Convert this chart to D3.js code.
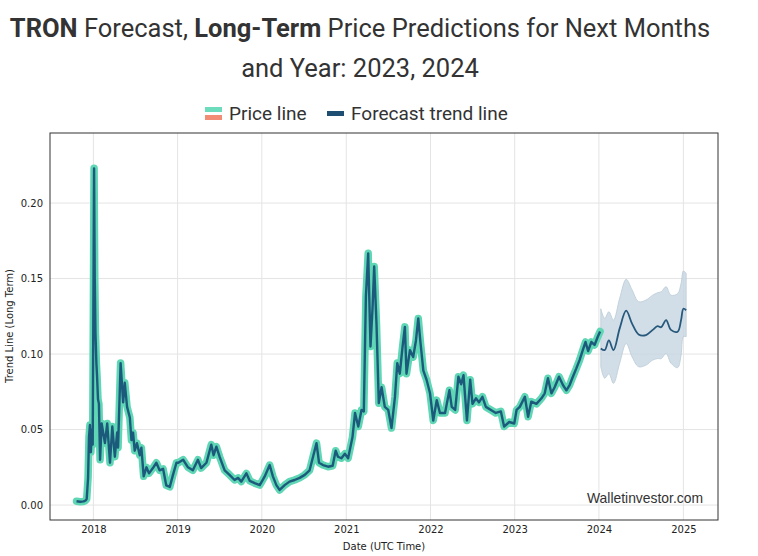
<!DOCTYPE html>
<html><head><meta charset="utf-8">
<script src="https://cdn.jsdelivr.net/npm/d3@7/dist/d3.min.js"></script>
<style>
html,body{margin:0;padding:0;background:#fff;}
svg{display:block;}
</style></head>
<body>
<svg id="chart" width="758" height="556"></svg>
<script>
// ---- data ----
const histDates = ["2017-10-20","2017-11-05","2017-11-20","2017-11-28","2017-12-03","2017-12-09","2017-12-13","2017-12-17","2017-12-21","2017-12-26","2017-12-29",
"2018-01-04","2018-01-07","2018-01-10","2018-01-14","2018-01-17","2018-01-21","2018-01-25","2018-01-30","2018-02-06","2018-02-20","2018-03-02","2018-03-14","2018-03-24","2018-04-04","2018-04-14","2018-04-18","2018-04-29",
"2018-05-10","2018-05-17","2018-05-27","2018-06-08","2018-06-15","2018-06-22","2018-06-29","2018-07-09","2018-07-21","2018-07-28","2018-08-07","2018-08-19","2018-08-30","2018-09-16","2018-10-01","2018-10-15","2018-10-30","2018-11-13","2018-11-28","2018-12-12","2018-12-27",
"2019-01-04","2019-01-25","2019-02-15","2019-03-08","2019-03-30","2019-04-13","2019-05-06","2019-05-27","2019-06-06","2019-06-18","2019-07-02","2019-07-24","2019-08-14","2019-09-05","2019-09-20","2019-10-04","2019-10-26","2019-11-10","2019-12-01","2019-12-23",
"2020-01-13","2020-02-04","2020-02-18","2020-03-04","2020-03-18","2020-04-09","2020-04-30","2020-05-22","2020-06-13","2020-07-05","2020-07-26","2020-08-10","2020-08-25","2020-09-05","2020-09-22","2020-10-14","2020-11-03","2020-11-16","2020-11-26","2020-12-11","2020-12-26",
"2021-01-09","2021-01-28","2021-02-08","2021-02-22","2021-03-08","2021-03-18","2021-03-27","2021-04-06","2021-04-16","2021-04-25","2021-05-02","2021-05-12","2021-05-22","2021-06-03","2021-06-17","2021-07-02","2021-07-16","2021-07-31","2021-08-10","2021-08-21","2021-09-02","2021-09-12","2021-09-19","2021-10-04","2021-10-18","2021-10-30","2021-11-09","2021-11-19","2021-12-01","2021-12-15","2021-12-30",
"2022-01-13","2022-01-28","2022-02-11","2022-03-05","2022-03-24","2022-04-03","2022-04-18","2022-05-02","2022-05-14","2022-05-24","2022-06-08","2022-06-22","2022-07-02","2022-07-17","2022-07-30","2022-08-14","2022-08-29","2022-09-20","2022-10-11","2022-11-02","2022-11-16","2022-12-08","2022-12-30",
"2023-01-09","2023-01-23","2023-02-14","2023-02-28","2023-03-14","2023-04-05","2023-04-27","2023-05-11","2023-05-25","2023-06-09","2023-06-23","2023-07-12","2023-07-29","2023-08-13","2023-08-27","2023-09-10","2023-09-25","2023-10-09","2023-10-23","2023-11-04","2023-11-15","2023-11-29","2023-12-13","2023-12-27","2024-01-06"];
const histValues = [0.0025,0.0022,0.0024,0.003,0.004,0.018,0.045,0.053,0.035,0.05,0.04,
0.223,0.15,0.114,0.094,0.085,0.07,0.067,0.030,0.054,0.041,0.054,0.028,0.052,0.032,0.048,0.038,0.094,
0.068,0.081,0.065,0.058,0.043,0.048,0.036,0.041,0.033,0.038,0.019,0.025,0.021,0.0245,0.028,0.023,0.024,0.013,0.012,0.020,0.028,
0.028,0.030,0.025,0.023,0.030,0.0245,0.028,0.040,0.033,0.0387,0.032,0.023,0.020,0.0166,0.018,0.0155,0.021,0.016,0.0145,0.0132,
0.0188,0.0265,0.019,0.0132,0.010,0.0132,0.0155,0.0166,0.018,0.020,0.023,0.032,0.041,0.028,0.0265,0.0254,0.026,0.036,0.032,0.031,0.034,
0.031,0.045,0.061,0.052,0.063,0.062,0.138,0.1667,0.105,0.131,0.158,0.120,0.0675,0.078,0.065,0.063,0.051,0.0717,0.094,0.087,0.105,0.118,0.087,0.1026,0.098,0.109,0.1236,0.107,0.089,0.083,0.074,
0.056,0.0695,0.061,0.061,0.076,0.065,0.063,0.085,0.080,0.086,0.056,0.083,0.067,0.0707,0.068,0.0717,0.065,0.063,0.061,0.062,0.052,0.055,0.054,
0.063,0.065,0.0717,0.0585,0.0685,0.067,0.0707,0.074,0.084,0.074,0.078,0.085,0.0795,0.076,0.0795,0.085,0.0905,0.096,0.1026,0.108,0.102,0.108,0.106,0.1115,0.115];

const fcDates = ["2024-01-09","2024-01-26","2024-02-13","2024-03-04","2024-03-31","2024-04-28","2024-05-24","2024-06-21","2024-07-23","2024-08-21","2024-09-11","2024-09-27","2024-10-18","2024-11-08","2024-12-07","2024-12-22","2025-01-01","2025-01-13"];
const fcValues = [0.1037,0.1026,0.109,0.1026,0.117,0.1287,0.120,0.113,0.1126,0.116,0.1185,0.1178,0.1225,0.116,0.1148,0.1225,0.130,0.129];
const fcUpper  = [0.130,0.1236,0.128,0.1225,0.137,0.1495,0.1424,0.1347,0.1358,0.139,0.1406,0.1413,0.1446,0.139,0.140,0.1468,0.155,0.1534];
const fcLower  = [0.0916,0.084,0.087,0.0806,0.094,0.107,0.098,0.0916,0.0927,0.096,0.097,0.097,0.1004,0.094,0.091,0.0993,0.1115,0.1115];

const yTicks = [0.00,0.05,0.10,0.15,0.20];
const xTickYears = ["2018","2019","2020","2021","2022","2023","2024","2025"];

// ---- layout ----
const parse = d3.timeParse("%Y-%m-%d");
const svg = d3.select("#chart");
const L=50, R=718, T=133, B=520;

const x = d3.scaleTime().domain([parse("2017-06-27"), parse("2025-05-31")]).range([L,R]);
const y = d3.scaleLinear().domain([-0.0099, 0.2464]).range([B,T]);

const hist = histDates.map((d,i)=>({date:parse(d), v:histValues[i]}));
const fc = fcDates.map((d,i)=>({date:parse(d), v:fcValues[i], hi:fcUpper[i], lo:fcLower[i]}));

// title
const tFont = "Roboto, 'Liberation Sans', sans-serif";
const title = svg.append("text").attr("x",360).attr("y",37).attr("text-anchor","middle")
  .style("font-family",tFont).style("font-size","25.5px").attr("fill","#333");
title.append("tspan").attr("font-weight","bold").text("TRON");
title.append("tspan").text(" Forecast, ");
title.append("tspan").attr("font-weight","bold").text("Long-Term");
title.append("tspan").text(" Price Predictions for Next Months");
svg.append("text").attr("x",360).attr("y",77).attr("text-anchor","middle")
  .style("font-family",tFont).style("font-size","25.5px").attr("fill","#333")
  .text("and Year: 2023, 2024");

// legend
const lg = svg.append("g").style("font-family",tFont).style("font-size","19px").attr("fill","#333");
lg.append("rect").attr("x",205).attr("y",107).attr("width",17).attr("height",5).attr("fill","#6ddcbc");
lg.append("rect").attr("x",205).attr("y",115).attr("width",17).attr("height",5).attr("fill","#f28c74");
lg.append("text").attr("x",229).attr("y",120).text("Price line");
lg.append("rect").attr("x",327).attr("y",111).attr("width",17).attr("height",5).attr("fill","#1f4e73");
lg.append("text").attr("x",351).attr("y",120).text("Forecast trend line");

// grid
const g = svg.append("g");
g.selectAll(".gy").data(yTicks).enter().append("line")
  .attr("x1",L).attr("x2",R).attr("y1",d=>y(d)).attr("y2",d=>y(d))
  .attr("stroke","#e4e4e4").attr("stroke-width",1);
g.selectAll(".gx").data(xTickYears).enter().append("line")
  .attr("x1",d=>x(parse(d+"-01-01"))).attr("x2",d=>x(parse(d+"-01-01")))
  .attr("y1",T).attr("y2",B).attr("stroke","#e4e4e4").attr("stroke-width",1);

// clip
svg.append("clipPath").attr("id","clip").append("rect").attr("x",L).attr("y",T).attr("width",R-L).attr("height",B-T);
const plot = svg.append("g").attr("clip-path","url(#clip)");

// forecast band
plot.append("path").datum(fc)
  .attr("d", d3.area().curve(d3.curveCatmullRom).x(d=>x(d.date)).y0(d=>y(d.lo)).y1(d=>y(d.hi)))
  .attr("fill","#c7d6e1").attr("fill-opacity",0.8).attr("stroke","#b9cad6").attr("stroke-width",0.8);

// price line (thick teal + dark)
const line = d3.line().x(d=>x(d.date)).y(d=>y(d.v));
plot.append("path").datum(hist).attr("d",line).attr("fill","none")
  .attr("stroke","#5fd6b4").attr("stroke-width",7.5).attr("stroke-linejoin","round").attr("stroke-linecap","round");
plot.append("path").datum(hist).attr("d",line).attr("fill","none")
  .attr("stroke","#1c5a7c").attr("stroke-width",2.4).attr("stroke-linejoin","round");

// forecast line
const fline = d3.line().curve(d3.curveCatmullRom).x(d=>x(d.date)).y(d=>y(d.v));
plot.append("path").datum(fc).attr("d",fline).attr("fill","none")
  .attr("stroke","#27597d").attr("stroke-width",1.8).attr("stroke-linejoin","round");

// frame
svg.append("rect").attr("x",L).attr("y",T).attr("width",R-L).attr("height",B-T)
  .attr("fill","none").attr("stroke","#333").attr("stroke-width",1);

// axes
const font = "'DejaVu Sans', Verdana, sans-serif";
const yAxis = svg.append("g").attr("transform",`translate(${L},0)`)
  .call(d3.axisLeft(y).tickValues(yTicks).tickFormat(d3.format(".2f")).tickSize(0).tickPadding(7));
const xAxis = svg.append("g").attr("transform",`translate(0,${B})`)
  .call(d3.axisBottom(x).tickValues(xTickYears.map(d=>parse(d+"-01-01"))).tickFormat(d3.timeFormat("%Y")).tickSize(0).tickPadding(6));
[yAxis,xAxis].forEach(a=>{
  a.select(".domain").remove();
  a.selectAll("text").style("font-family",font).style("font-size","10px").attr("fill","#222");
});

svg.append("text").attr("transform","translate(13,326) rotate(-90)").attr("text-anchor","middle")
  .style("font-family",font).style("font-size","10px").attr("fill","#222").text("Trend Line (Long Term)");
svg.append("text").attr("x",384).attr("y",550).attr("text-anchor","middle")
  .style("font-family",font).style("font-size","10px").attr("fill","#222").text("Date (UTC Time)");

// watermark
svg.append("text").attr("x",587).attr("y",503).attr("textLength",116).attr("lengthAdjust","spacingAndGlyphs")
  .style("font-family","'Liberation Sans Narrow', 'Liberation Sans', Arial, sans-serif").style("font-size","15px").attr("fill","#333")
  .text("Walletinvestor.com");
</script>
</body></html>
